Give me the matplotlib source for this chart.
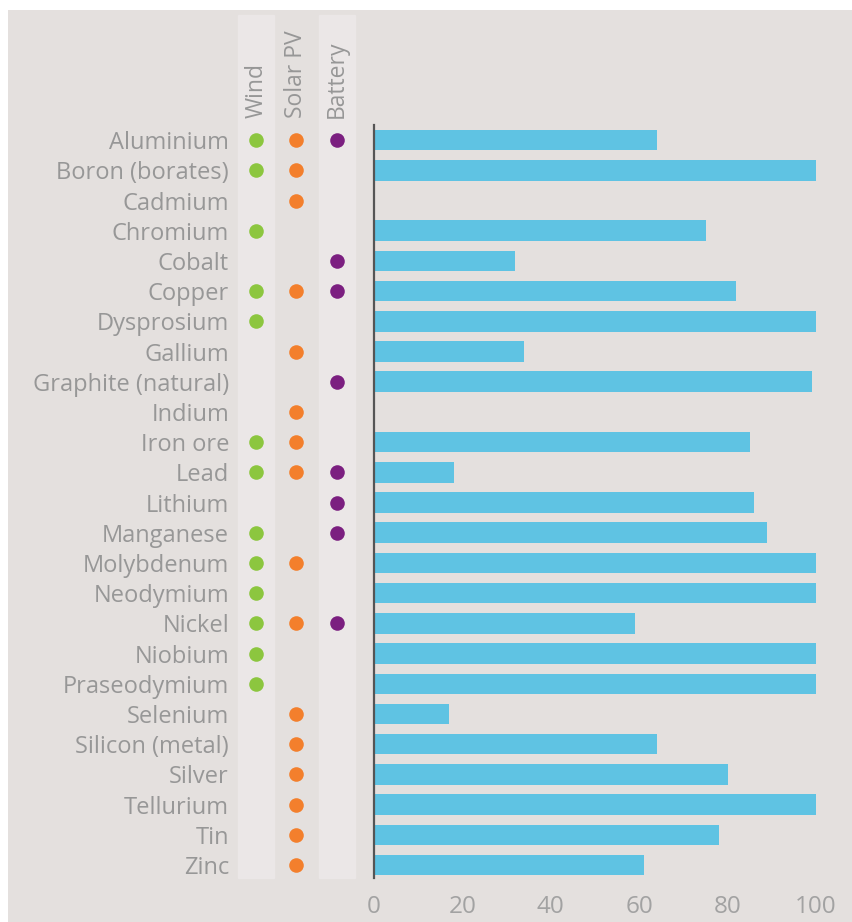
import numpy as np
import matplotlib.pyplot as plt
from matplotlib.patches import Rectangle

materials = ["Aluminium", "Boron (borates)", "Cadmium", "Chromium", "Cobalt", "Copper",
             "Dysprosium", "Gallium", "Graphite (natural)", "Indium", "Iron ore", "Lead",
             "Lithium", "Manganese", "Molybdenum", "Neodymium", "Nickel", "Niobium",
             "Praseodymium", "Selenium", "Silicon (metal)", "Silver", "Tellurium", "Tin", "Zinc"]
values = [64, 100, np.nan, 75, 32, 82, 100, 34, 99, np.nan, 85, 18, 86, 89, 100, 100,
          59, 100, 100, 17, 64, 80, 100, 78, 61]

technologies = ["Wind", "Solar PV", "Battery"]
tech_colors = ["#8cc63f", "#f37f2c", "#7b1f80"]
wind = ["Aluminium", "Boron (borates)", "Chromium", "Copper", "Dysprosium", "Iron ore", "Lead",
        "Manganese", "Molybdenum", "Neodymium", "Nickel", "Niobium", "Praseodymium"]
solar = ["Aluminium", "Boron (borates)", "Cadmium", "Copper", "Gallium", "Indium", "Iron ore",
         "Lead", "Molybdenum", "Nickel", "Selenium", "Silicon (metal)", "Silver", "Tellurium",
         "Tin", "Zinc"]
battery = ["Aluminium", "Cobalt", "Copper", "Graphite (natural)", "Lead", "Lithium",
           "Manganese", "Nickel"]
usage = [wind, solar, battery]

bg = "#e4e0de"
band = "#ebe7e7"
txt = "#979797"
plt.rcParams['font.family'] = ['Open Sans', 'DejaVu Sans']

W, H = 853, 922
fig = plt.figure(figsize=(W / 100, H / 100), dpi=100, facecolor="white")
fig.patches.append(Rectangle((8 / W, 0), 1, 1 - 10 / H, transform=fig.transFigure,
                             facecolor=bg, edgecolor="none", zorder=-10))

top, bot = 125, 878
y = np.arange(len(materials))
ylim = (24.43, -0.5)

# bars
ax = fig.add_axes([374 / W, 1 - bot / H, (816 - 374) / W, (bot - top) / H])
ax.set_facecolor("none")
ax.barh(y, values, height=0.68, color="#5fc3e3")
ax.set_xlim(0, 100)
ax.set_ylim(*ylim)
ax.set_xticks([0, 20, 40, 60, 80, 100])
ax.tick_params(axis="x", length=0, pad=12, labelsize=17.5, labelcolor="#a2a2a2")
ax.set_yticks([])
for s in ["top", "right", "bottom"]:
    ax.spines[s].set_visible(False)
ax.spines["left"].set_color("#555555")
ax.spines["left"].set_linewidth(1.6)

# dot matrix
ax2 = fig.add_axes([236 / W, 1 - bot / H, (357 - 236) / W, (bot - top) / H])
ax2.set_facecolor("none")
ext = 1 + (top - 15) / (bot - top)
for i in [0, 2]:
    ax2.axvspan(i - 0.44, i + 0.44, ymin=0, ymax=ext, color=band, zorder=0, clip_on=False)
for i, (lst, c) in enumerate(zip(usage, tech_colors)):
    yy = [materials.index(m) for m in lst]
    ax2.scatter([i] * len(yy), yy, s=110, color=c, zorder=2, linewidths=0)
ax2.set_xlim(-0.5, 2.5)
ax2.set_ylim(*ylim)
ax2.set_yticks(y)
ax2.set_yticklabels(materials)
ax2.tick_params(axis="y", length=0, pad=5, labelsize=17, labelcolor=txt)
ax2.xaxis.tick_top()
ax2.set_xticks(range(3))
ax2.set_xticklabels(technologies, rotation=90)
ax2.tick_params(axis="x", length=0, pad=5, labelsize=16.5, labelcolor=txt)
for s in ax2.spines.values():
    s.set_visible(False)

fig.savefig("out.png", dpi=100, facecolor="white")
